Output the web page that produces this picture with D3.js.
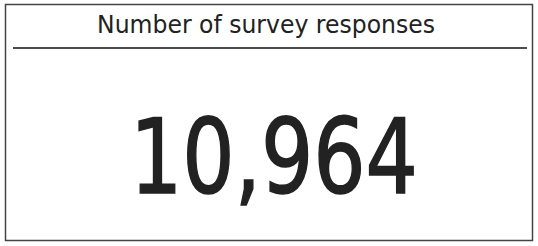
<!DOCTYPE html>
<html>
<head>
<meta charset="utf-8">
<script src="https://cdn.jsdelivr.net/npm/d3@7"></script>
<style>
  body { margin: 0; background: #fff; }
  svg text { font-family: "DejaVu Sans", sans-serif; fill: #222; }
</style>
</head>
<body>
<div id="vis"></div>
<script>
// card values
var titles = ['Number of survey responses'];
var values = [10964];

var width = 538;
var height = 246;

var svg = d3.select('#vis')
    .append('svg')
    .attr('width', width)
    .attr('height', height);

// outer border
svg.append('rect')
    .attr('x', 5.5)
    .attr('y', 4.5)
    .attr('width', 527)
    .attr('height', 236)
    .attr('fill', '#fff')
    .attr('stroke', '#444')
    .attr('stroke-width', 1.5);

// fit a text node to a target width by squeezing it horizontally
var fitWidth = function(sel, w, cx, y) {
    sel.each(function() {
        var box = this.getBBox();
        var sx = w / box.width;
        d3.select(this).attr('transform', 'translate(' + cx + ',' + y + ') scale(' + sx + ',1)');
    });
};

// title
var title = svg.selectAll('.title')
    .data(titles)
    .enter().append('text')
    .attr('class', 'title')
    .attr('text-anchor', 'middle')
    .style('font-size', '24.5px')
    .text(function(d) { return d; });
fitWidth(title, 338, 266, 33);

// rule under title
svg.append('line')
    .attr('x1', 13)
    .attr('x2', 527)
    .attr('y1', 48)
    .attr('y2', 48)
    .attr('stroke', '#111')
    .attr('stroke-width', 1.5);

// big number
var fmt = d3.format(',');
var num = svg.selectAll('.num')
    .data(values)
    .enter().append('text')
    .attr('class', 'num')
    .attr('text-anchor', 'middle')
    .style('font-size', '103px')
    .style('stroke', '#222')
    .style('stroke-width', 1.6)
    .text(function(d) { return fmt(d); });
fitWidth(num, 288, 274, 193);
</script>
</body>
</html>
